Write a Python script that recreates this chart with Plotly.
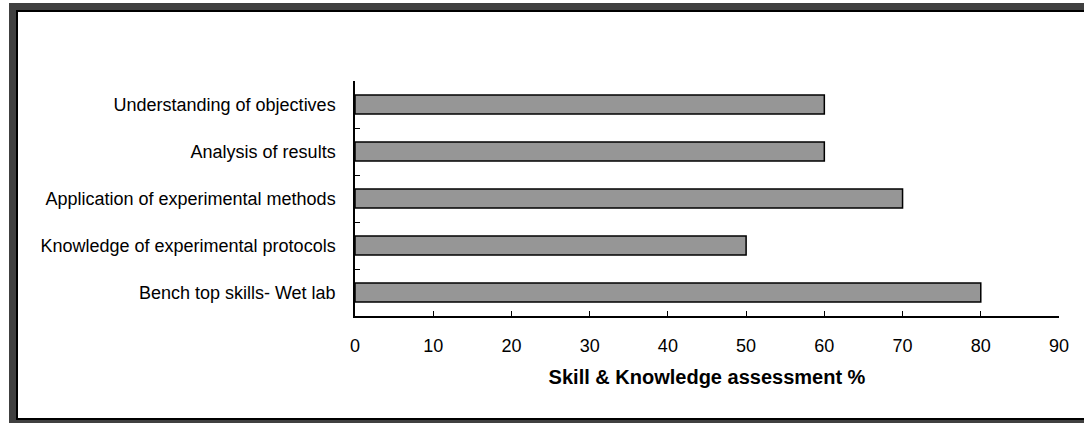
import plotly.graph_objects as go

categories = [
    "Bench top skills- Wet lab",
    "Knowledge of experimental protocols",
    "Application of experimental methods",
    "Analysis of results",
    "Understanding of objectives",
]
values = [80, 50, 70, 60, 60]
x_ticks = [0, 10, 20, 30, 40, 50, 60, 70, 80, 90]
x_title = "Skill & Knowledge assessment %"

W, H = 1084, 423
L, R, T, B = 355, 1059, 81, 316  # plot area in pixels


def px_x(p):
    return (p - L) / (R - L)


def px_y(p):
    return (B - p) / (B - T)


FONT = "Liberation Sans, Arial, sans-serif"

fig = go.Figure(
    go.Bar(
        x=values,
        y=categories,
        orientation="h",
        marker=dict(color="#969696", line=dict(color="black", width=1.5)),
        width=0.4,
    )
)

fig.update_layout(
    width=W,
    height=H,
    margin=dict(l=L, r=W - R, t=T, b=H - B),
    paper_bgcolor="white",
    plot_bgcolor="rgba(0,0,0,0)",
    showlegend=False,
    font=dict(family=FONT, size=16, color="black"),
    shapes=[
        dict(type="rect", xref="paper", yref="paper", layer="below",
             x0=px_x(9), x1=px_x(1300), y0=px_y(3), y1=px_y(600),
             fillcolor="#404040", line=dict(width=0)),
        dict(type="rect", xref="paper", yref="paper", layer="below",
             x0=px_x(17), x1=px_x(1300), y0=px_y(11), y1=px_y(419),
             fillcolor="white", line=dict(color="black", width=2)),
    ],
)

fig.update_xaxes(
    range=[0, 90],
    tickvals=x_ticks,
    ticks="inside",
    ticklen=5,
    tickcolor="black",
    showline=True,
    linecolor="black",
    linewidth=1.5,
    showgrid=False,
    zeroline=False,
    tickfont=dict(size=18, family=FONT),
    ticklabelstandoff=13,
    title=dict(text="<b>" + x_title + "</b>", font=dict(size=20, family=FONT), standoff=15),
)

fig.update_yaxes(
    type="category",
    categoryorder="array",
    categoryarray=categories,
    range=[-0.5, len(categories) - 0.5],
    ticks="inside",
    tickson="boundaries",
    ticklen=5,
    tickcolor="black",
    showline=True,
    linecolor="black",
    linewidth=1.5,
    showgrid=False,
    tickfont=dict(size=18, family=FONT),
    ticklabelstandoff=14,
)

fig.write_html("out.html")
